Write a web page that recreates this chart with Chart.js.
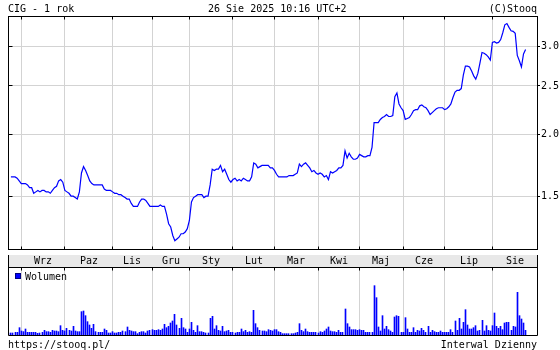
<!DOCTYPE html>
<html>
<head>
<meta charset="utf-8">
<script src="https://cdn.jsdelivr.net/npm/chart.js@4"></script>
<style>
  html, body { margin: 0; padding: 0; background: #fff; }
  #wrap { position: relative; width: 560px; height: 350px; overflow: hidden; background: #fff; }
  canvas { position: absolute; left: 0; }
  #price { top: 0; }
  #vol { top: 255px; }
</style>
</head>
<body>
<div id="wrap">
  <canvas id="price" width="560" height="256"></canvas>
  <canvas id="vol" width="560" height="95"></canvas>
</div>
<script>
const title = 'CIG - 1 rok';
const stamp = '26 Sie 2025 10:16 UTC+2';
const brand = '(C)Stooq';
const footLeft = 'https://stooq.pl/';
const footRight = 'Interwal Dzienny';

// month labels and index of first session of each month
const months = ['Wrz', 'Paz', 'Lis', 'Gru', 'Sty', 'Lut', 'Mar', 'Kwi', 'Maj', 'Cze', 'Lip', 'Sie'];
const monthStarts = [5, 26, 49, 68, 86, 107, 127, 148, 168, 189, 209, 232];
const priceTicks = [1.5, 2.0, 2.5, 3.0];

// daily close, 26.08.2024 - 26.08.2025
const prices = [
  1.64, 1.64, 1.64, 1.63, 1.61, 1.59, 1.59, 1.59, 1.58, 1.56,
  1.56, 1.52, 1.53, 1.54, 1.53, 1.54, 1.54, 1.53, 1.53, 1.52,
  1.54, 1.56, 1.57, 1.61, 1.62, 1.60, 1.54, 1.53, 1.52, 1.50,
  1.50, 1.49, 1.48, 1.53, 1.67, 1.72, 1.69, 1.65, 1.61, 1.59,
  1.58, 1.58, 1.58, 1.58, 1.58, 1.55, 1.54, 1.54, 1.54, 1.53,
  1.52, 1.52, 1.51, 1.51, 1.50, 1.49, 1.48, 1.48, 1.45, 1.43,
  1.43, 1.43, 1.46, 1.48, 1.48, 1.47, 1.45, 1.43, 1.43, 1.43,
  1.43, 1.43, 1.44, 1.43, 1.43, 1.38, 1.32, 1.30, 1.25, 1.22,
  1.23, 1.24, 1.26, 1.26, 1.27, 1.29, 1.34, 1.46, 1.49, 1.50,
  1.51, 1.51, 1.51, 1.49, 1.50, 1.50, 1.58, 1.70, 1.69, 1.70,
  1.70, 1.73, 1.68, 1.70, 1.66, 1.62, 1.60, 1.62, 1.63, 1.61,
  1.62, 1.61, 1.63, 1.62, 1.61, 1.61, 1.64, 1.75, 1.74, 1.71,
  1.72, 1.73, 1.73, 1.73, 1.73, 1.71, 1.71, 1.69, 1.66, 1.64,
  1.64, 1.64, 1.64, 1.64, 1.65, 1.65, 1.65, 1.66, 1.67, 1.74,
  1.72, 1.74, 1.75, 1.73, 1.71, 1.68, 1.69, 1.67, 1.66, 1.67,
  1.66, 1.64, 1.65, 1.62, 1.68, 1.67, 1.68, 1.69, 1.71, 1.71,
  1.73, 1.85, 1.79, 1.83, 1.80, 1.78, 1.78, 1.79, 1.82, 1.81,
  1.80, 1.80, 1.81, 1.81, 1.88, 2.11, 2.11, 2.11, 2.14, 2.16,
  2.17, 2.19, 2.17, 2.17, 2.18, 2.38, 2.42, 2.30, 2.26, 2.23,
  2.14, 2.15, 2.16, 2.19, 2.23, 2.24, 2.24, 2.28, 2.29, 2.27,
  2.26, 2.23, 2.19, 2.21, 2.23, 2.25, 2.26, 2.26, 2.26, 2.24,
  2.25, 2.27, 2.30, 2.37, 2.43, 2.45, 2.45, 2.47, 2.63, 2.74,
  2.74, 2.73, 2.68, 2.62, 2.58, 2.65, 2.78, 2.92, 2.91, 2.89,
  2.86, 2.82, 3.06, 3.07, 3.05, 3.06, 3.10, 3.20, 3.32, 3.34,
  3.28, 3.23, 3.22, 3.19, 2.88, 2.81, 2.73, 2.90, 2.96
];

// volume, relative units
const volumes = [
  6, 6, 8, 8, 22, 12, 10, 18, 8, 8,
  8, 8, 8, 5, 6, 8, 14, 10, 10, 8,
  14, 12, 12, 10, 28, 14, 12, 20, 14, 12,
  26, 12, 10, 10, 70, 72, 58, 40, 30, 20,
  32, 10, 8, 8, 8, 18, 14, 6, 6, 10,
  6, 6, 8, 8, 12, 10, 24, 14, 12, 10,
  10, 4, 8, 10, 10, 6, 12, 14, 16, 14,
  14, 16, 14, 18, 32, 22, 26, 36, 42, 62,
  30, 20, 50, 22, 18, 8, 18, 38, 14, 8,
  28, 10, 10, 8, 6, 6, 50, 56, 18, 28,
  14, 12, 26, 10, 12, 14, 8, 8, 6, 8,
  8, 18, 10, 14, 8, 10, 8, 74, 34, 22,
  14, 12, 12, 10, 16, 14, 12, 16, 16, 10,
  8, 4, 4, 4, 4, 4, 4, 6, 8, 34,
  14, 10, 18, 10, 8, 8, 8, 8, 6, 10,
  8, 12, 18, 24, 12, 10, 10, 8, 14, 8,
  8, 78, 34, 24, 16, 16, 16, 14, 16, 14,
  14, 8, 8, 8, 8, 148, 112, 24, 12, 58,
  18, 26, 16, 12, 8, 54, 58, 56, 8, 8,
  52, 18, 8, 8, 22, 8, 14, 12, 20, 14,
  8, 26, 8, 14, 10, 8, 8, 12, 8, 8,
  8, 8, 16, 8, 42, 14, 50, 18, 38, 76,
  30, 18, 18, 22, 28, 12, 14, 44, 12, 28,
  14, 12, 28, 66, 26, 20, 26, 16, 36, 38,
  38, 14, 26, 24, 128, 58, 48, 36, 14
];

const FAMILY = "'DejaVu Sans Mono', 'Liberation Mono', monospace";
const FONT = '10px ' + FAMILY;
const GRID = '#d3d3d3';
const BAND = '#e8e8e8';
const BLUE = '#0000ff';
const xMin = -1.4;
const xMax = 253.5;

// same rounding as Chart.js uses for 1px grid lines
function crisp(p) {
    return Math.round(p - 0.5) + 0.5;
}

function line(ctx, x1, y1, x2, y2) {
    ctx.beginPath();
    ctx.moveTo(x1, y1);
    ctx.lineTo(x2, y2);
    ctx.stroke();
}

const priceFrame = {
    id: 'priceFrame',
    afterDraw(chart) {
        const ctx = chart.ctx;
        const a = chart.chartArea;
        const x = chart.scales.x;
        const y = chart.scales.y;
        const L = crisp(a.left), R = crisp(a.right), T = crisp(a.top), B = crisp(a.bottom);
        ctx.save();
        ctx.strokeStyle = '#000';
        ctx.lineWidth = 1;
        ctx.strokeRect(L, T, R - L, B - T);
        monthStarts.forEach(function(m) {
            const px = crisp(x.getPixelForValue(m));
            line(ctx, px, T, px, T + 3);
            line(ctx, px, B, px, B - 3);
        });
        priceTicks.forEach(function(v) {
            const py = crisp(y.getPixelForValue(v));
            line(ctx, L, py, L + 4, py);
        });
        ctx.fillStyle = '#000';
        ctx.font = FONT;
        ctx.textBaseline = 'alphabetic';
        ctx.textAlign = 'left';
        ctx.fillText(title, 8, 12);
        ctx.fillText(stamp, 208, 12);
        ctx.textAlign = 'right';
        ctx.fillText(brand, 537, 12);
        ctx.restore();
    }
};

// snap the 1px volume bars onto whole pixel columns
const snapBars = {
    id: 'snapBars',
    afterDatasetsUpdate(chart) {
        chart.getDatasetMeta(0).data.forEach(function(bar) {
            bar.x = Math.round(bar.x - 0.5) + 0.5;
        });
    }
};

const volFrame = {
    id: 'volFrame',
    afterDraw(chart) {
        const ctx = chart.ctx;
        const a = chart.chartArea;
        const x = chart.scales.x;
        const L = crisp(a.left), R = crisp(a.right), T = crisp(a.top), B = crisp(a.bottom);
        ctx.save();
        // label band between the two panels
        ctx.fillStyle = BAND;
        ctx.fillRect(L, 0, R - L, T);
        ctx.strokeStyle = '#000';
        ctx.lineWidth = 1;
        line(ctx, L, 0, L, B);
        line(ctx, R, 0, R, B);
        line(ctx, L, T, R, T);
        line(ctx, L, B, R, B);
        monthStarts.forEach(function(m) {
            const px = crisp(x.getPixelForValue(m));
            line(ctx, px, T, px, T + 3);
        });
        ctx.fillStyle = '#000';
        ctx.font = FONT;
        ctx.textBaseline = 'alphabetic';
        ctx.textAlign = 'center';
        months.forEach(function(name, k) {
            const x0 = x.getPixelForValue(monthStarts[k]);
            const x1 = k + 1 < monthStarts.length ? x.getPixelForValue(monthStarts[k + 1]) : a.right;
            ctx.fillText(name, Math.round((x0 + x1) / 2), 9);
        });
        // legend
        ctx.fillStyle = BLUE;
        ctx.fillRect(15, 18, 6, 6);
        ctx.strokeStyle = '#000080';
        ctx.strokeRect(15.5, 18.5, 5, 5);
        ctx.fillStyle = '#000';
        ctx.textAlign = 'left';
        ctx.fillText(chart.data.datasets[0].label, 25, 25);
        // footer
        ctx.fillText(footLeft, 8, 93);
        ctx.textAlign = 'right';
        ctx.fillText(footRight, 537, 93);
        ctx.restore();
    }
};

const monthTicks = function(scale) {
    scale.ticks = monthStarts.map(function(v) { return { value: v }; });
};

new Chart(document.getElementById('price'), {
    type: 'line',
    data: {
        datasets: [{
            label: 'CIG',
            data: prices.map(function(p, i) { return { x: i, y: p }; }),
            borderColor: BLUE,
            borderWidth: 1.2,
            pointRadius: 0,
            tension: 0,
            fill: false
        }]
    },
    options: {
        responsive: false,
        animation: false,
        events: [],
        layout: { padding: { left: 8, top: 16, right: 0, bottom: 2 } },
        plugins: { legend: { display: false }, tooltip: { enabled: false } },
        scales: {
            x: {
                type: 'linear',
                min: xMin,
                max: xMax,
                afterBuildTicks: monthTicks,
                ticks: { display: false },
                grid: { color: GRID, drawTicks: false },
                border: { display: false }
            },
            y: {
                type: 'logarithmic',
                position: 'right',
                min: 1.174,
                max: 3.458,
                afterBuildTicks: function(scale) {
                    scale.ticks = priceTicks.map(function(v) { return { value: v }; });
                },
                afterFit: function(scale) { scale.width = 23; },
                ticks: {
                    color: '#000',
                    padding: 1,
                    font: { family: FAMILY, size: 10 },
                    callback: function(v) { return Number(v).toFixed(1); }
                },
                grid: { color: GRID, tickColor: '#000', tickLength: 3 },
                border: { display: false }
            }
        }
    },
    plugins: [priceFrame]
});

new Chart(document.getElementById('vol'), {
    type: 'bar',
    data: {
        datasets: [{
            label: 'Wolumen',
            data: volumes.map(function(v, i) { return { x: i, y: v }; }),
            backgroundColor: BLUE,
            borderWidth: 0,
            barThickness: 1
        }]
    },
    options: {
        responsive: false,
        animation: false,
        events: [],
        layout: { padding: { left: 8, top: 12, right: 23, bottom: 15 } },
        plugins: { legend: { display: false }, tooltip: { enabled: false } },
        scales: {
            x: {
                type: 'linear',
                min: xMin,
                max: xMax,
                offset: false,
                afterBuildTicks: monthTicks,
                ticks: { display: false },
                grid: { color: GRID, drawTicks: false, offset: false },
                border: { display: false }
            },
            y: { display: false, min: 0, max: 204 }
        }
    },
    plugins: [snapBars, volFrame]
});
</script>
</body>
</html>
